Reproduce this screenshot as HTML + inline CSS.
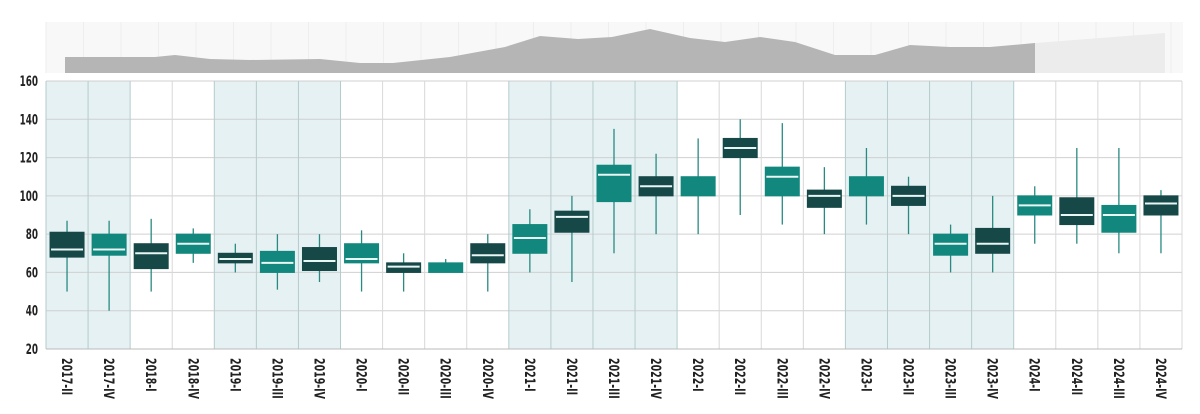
<!DOCTYPE html>
<html><head><meta charset="utf-8"><style>
html,body{margin:0;padding:0;background:#fff;width:1200px;height:414px;overflow:hidden}
svg{display:block}
text{font-family:"DejaVu Sans Condensed","Liberation Sans",sans-serif}
</style></head><body>
<svg id="s" width="1200" height="414" xmlns="http://www.w3.org/2000/svg"></svg>
<script>
const L=46,R=1182,T=81,B=349,n=27,w=(R-L)/n;
const y=v=>B-(v-20)*(B-T)/140;
const labels=["2017-II","2017-IV","2018-I","2018-IV","2019-I","2019-III","2019-IV","2020-I","2020-II","2020-III","2020-IV","2021-I","2021-II","2021-III","2021-IV","2022-I","2022-II","2022-III","2022-IV","2023-I","2023-II","2023-III","2023-IV","2024-I","2024-II","2024-III","2024-IV"];
const d=[[50,68,72,81,87],[40,69,72,80,87],[50,62,70,75,88],[65,70,75,80,83],[60,65,67,70,75],[51,60,65,71,80],[55,61,66,73,80],[50,65,67,75,82],[50,60,63,65,70],[60,60,60,65,67],[50,65,69,75,80],[60,70,78,85,93],[55,81,89,92,100],[70,97,111,116,135],[80,100,105,110,122],[80,100,100,110,130],[90,120,125,130,140],[85,100,110,115,138],[80,94,100,103,115],[85,100,100,110,125],[80,95,100,105,110],[60,69,75,80,85],[60,70,75,83,100],[75,90,95,100,105],[75,85,90,99,125],[70,81,90,95,125],[70,90,96,100,103]];
const dark=[1,0,1,0,1,0,1,0,1,0,1,0,1,0,1,0,1,0,1,0,1,0,1,0,1,0,1];
const shade=[0,1,4,5,6,11,12,13,14,19,20,21,22];
let s='';
s+=`<rect x="46" y="22" width="1137" height="51" fill="#f8f8f8"/>`;
for(let x=46;x<1183;x+=37.5)s+=`<line x1="${x}" y1="22" x2="${x}" y2="73" stroke="#eeeeee"/>`;
const np=[[65,57],[110,57],[155,57],[175,55],[210,59],[250,60],[320,59],[360,63],[393,63],[450,57],[505,47],[540,36],[578,39],[612,37],[650,29],[690,38],[725,42],[760,37],[795,42],[835,55],[875,55],[910,45],[950,47],[990,47],[1035,43]];
s+=`<path d="M65,73 L${np.map(p=>p.join(',')).join(' L')} L1035,73Z" fill="#b5b5b5"/>`;
s+=`<path d="M1035,73 L1035,43 L1165,33 L1165,73Z" fill="#ececec"/>`;
shade.forEach(i=>s+=`<rect x="${L+i*w}" y="${T}" width="${w}" height="${B-T}" fill="#e5f1f2"/>`);
for(let v=20;v<=160;v+=20){s+=`<line x1="${L}" y1="${y(v)}" x2="${R}" y2="${y(v)}" stroke="#d0d0d0"/>`;
s+=`<text x="38" y="${y(v)+5}" font-size="14" font-weight="bold" text-anchor="end" fill="#222" transform="translate(38 0) scale(0.7 1) translate(-38 0)">${v}</text>`;}
for(let i=0;i<=n;i++){const x=L+i*w;s+=`<line x1="${x}" y1="${T}" x2="${x}" y2="${B}" stroke="${shade.includes(i)||shade.includes(i-1)?'#b5cccc':'#d8d8d8'}"/>`;}
s+=`<line x1="${L}" y1="${B}" x2="${R}" y2="${B}" stroke="#bbb"/>`;
d.forEach((a,i)=>{const cx=L+(i+.5)*w,bw=34,c=dark[i]?'#174848':'#12877d';
s+=`<line x1="${cx}" y1="${y(a[0])}" x2="${cx}" y2="${y(a[4])}" stroke="#2a8a82" stroke-width="1.3"/>`;
s+=`<rect x="${cx-bw/2}" y="${y(a[3])}" width="${bw}" height="${Math.max(y(a[1])-y(a[3]),2)}" fill="${c}" stroke="${c}" stroke-width="1"/>`;
if(a[2]>a[1])s+=`<line x1="${cx-bw/2+1}" y1="${y(a[2])}" x2="${cx+bw/2-1}" y2="${y(a[2])}" stroke="#e8f6f4" stroke-width="2"/>`;
s+=`<text transform="translate(${cx-5},358) rotate(90) scale(0.75 1)" font-size="14" font-weight="bold" fill="#222">${labels[i]}</text>`;});
document.getElementById('s').innerHTML=s;
</script>
</body></html>
